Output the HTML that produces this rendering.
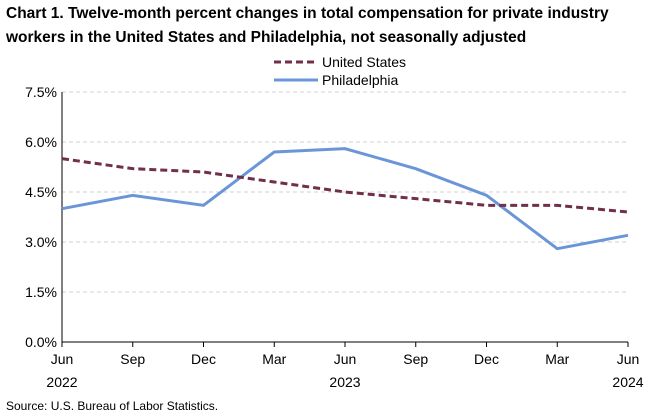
<!DOCTYPE html>
<html><head><meta charset="utf-8"><style>
body{margin:0;background:#fff;font-family:"Liberation Sans",Arial,sans-serif;}
svg text{font-family:"Liberation Sans",Arial,sans-serif;}
</style></head><body>
<svg id="c" width="668" height="413" xmlns="http://www.w3.org/2000/svg">
<text x="6" y="18" font-size="15.5" font-weight="bold" fill="#000">Chart 1. Twelve-month percent changes in total compensation for private industry</text>
<text x="6" y="42" font-size="15.5" font-weight="bold" fill="#000">workers in the United States and Philadelphia, not seasonally adjusted</text>
<g>
<g><line x1="274" y1="62" x2="318" y2="62" stroke="#722f4c" stroke-width="3" stroke-dasharray="7,4"/><text x="322" y="67" font-size="14">United States</text></g>
<g><line x1="274" y1="80" x2="318" y2="80" stroke="#6a96d8" stroke-width="3"/><text x="322" y="85" font-size="14">Philadelphia</text></g>
</g>
<g id="grid"></g><g id="axes"></g><g id="series"></g>
<text x="6" y="410" font-size="12">Source: U.S. Bureau of Labor Statistics.</text>
</svg>
<script>
const categories=["Jun","Sep","Dec","Mar","Jun","Sep","Dec","Mar","Jun"];
const years=["2022","","","","2023","","","","2024"];
const usValues=[5.5,5.2,5.1,4.8,4.5,4.3,4.1,4.1,3.9];
const phlValues=[4.0,4.4,4.1,5.7,5.8,5.2,4.4,2.8,3.2];
const yTicks=[0,1.5,3.0,4.5,6.0,7.5];
const yTickLabels=["0.0%","1.5%","3.0%","4.5%","6.0%","7.5%"];
const NS="http://www.w3.org/2000/svg";
const L=62,R=628,T=92,B=342,yMax=7.5;
const x=i=>L+i*(R-L)/(categories.length-1);
const y=v=>B-v/yMax*(B-T);
function mk(tag,attrs,parent){const e=document.createElementNS(NS,tag);for(const k in attrs)e.setAttribute(k,attrs[k]);parent.appendChild(e);return e;}
const grid=document.getElementById('grid'),axes=document.getElementById('axes'),series=document.getElementById('series');
yTicks.forEach((t,i)=>{
 if(t>0){const g=mk('line',{x1:L,x2:R,y1:y(t),y2:y(t),stroke:'#d0d0d0','stroke-dasharray':'4,3'},grid);
 
 }
 const tx=mk('text',{x:L-5,y:y(t)+5,'font-size':14,'text-anchor':'end'},axes);tx.textContent=yTickLabels[i];
 
 
});
const ya=mk('line',{x1:L,x2:L,y1:T,y2:B,stroke:'#000'},axes);


const xa=mk('line',{x1:L,x2:R,y1:B,y2:B,stroke:'#000'},axes);


categories.forEach((c,i)=>{
 const tk=mk('line',{x1:x(i),x2:x(i),y1:B,y2:B+5,stroke:'#000'},axes);
 
 
 const t=mk('text',{x:x(i),y:B+22,'font-size':14,'text-anchor':'middle'},axes);t.textContent=c;
 
 
 if(years[i]){const yt=mk('text',{x:x(i),y:B+45,'font-size':14,'text-anchor':'middle'},axes);yt.textContent=years[i];
 
 }
});
function line(vals,color,dash,name){
 const p=mk('polyline',{points:vals.map((v,i)=>x(i)+','+y(v)).join(' '),fill:'none',stroke:color,'stroke-width':3},series);
 if(dash)p.setAttribute('stroke-dasharray',dash);
 
 
}
line(phlValues,'#6a96d8',null,'philadelphia-line');
line(usValues,'#722f4c','7,4','united-states-line');
</script>
</body></html>
